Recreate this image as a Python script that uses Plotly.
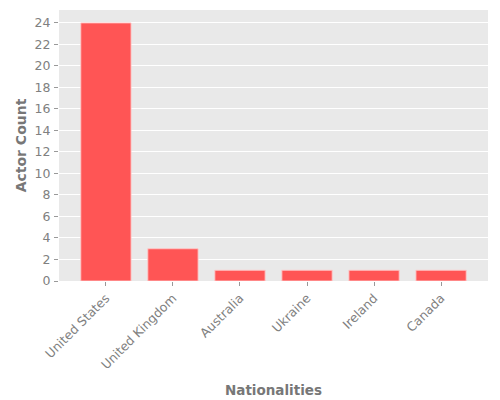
import plotly.graph_objects as go

nationalities = ["United States", "United Kingdom", "Australia", "Ukraine", "Ireland", "Canada"]
actor_counts = [24, 3, 1, 1, 1, 1]
y_ticks = list(range(0, 25, 2))

fig = go.Figure(go.Bar(
    x=nationalities, y=actor_counts,
    marker=dict(color="#ff5555", line=dict(color="rgba(255,200,200,0.9)", width=1)),
    width=0.75,
))
fig.update_layout(
    width=500, height=400,
    margin=dict(l=59, r=12, t=10, b=119, autoexpand=False),
    paper_bgcolor="white", plot_bgcolor="#e9e9e9",
    font=dict(family="DejaVu Sans", color="#808080", size=12.5),
    showlegend=False,
)
fig.update_xaxes(
    range=[-0.7, 5.7], tickangle=-45, showgrid=False, zeroline=False, automargin=True,
    ticks="outside", ticklen=4, tickcolor="#999999",
    title=dict(text="<b>Nationalities</b>", font=dict(size=13.5, color="#777777"), standoff=14),
)
fig.update_yaxes(
    range=[0, 25.2], tickvals=y_ticks, gridcolor="white", gridwidth=1, zeroline=False, automargin=False,
    ticks="outside", ticklen=4, tickcolor="#999999", ticklabelstandoff=1,
    title=dict(text="<b>Actor Count</b>", font=dict(size=14, color="#777777"), standoff=4),
)
fig.write_html(
    "out.html",
    config={"displayModeBar": False},
    post_script="document.body.style.margin='0';document.body.style.overflow='hidden';",
)
